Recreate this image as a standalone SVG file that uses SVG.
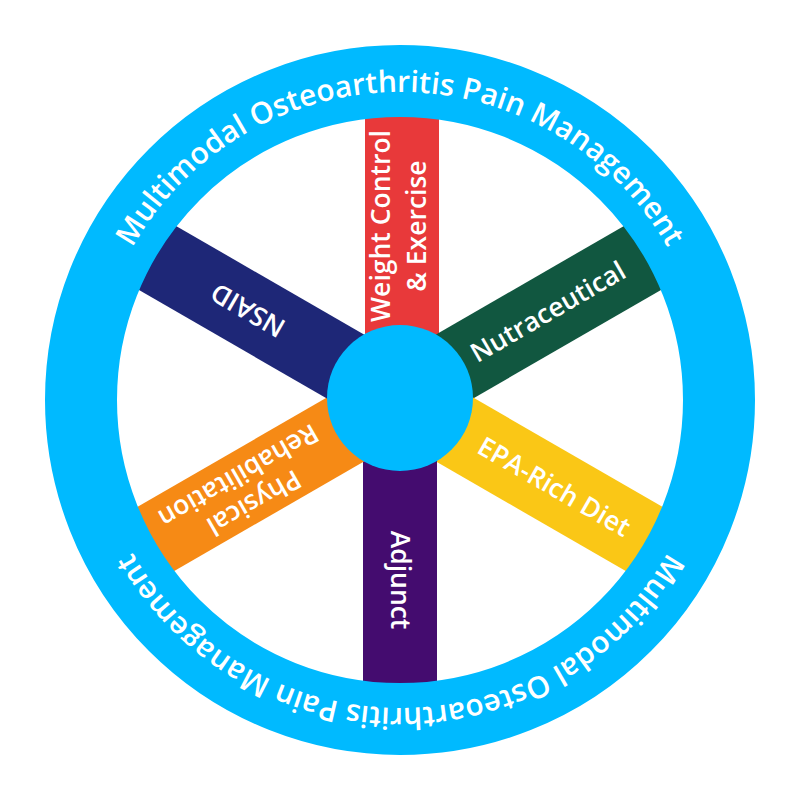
<svg xmlns="http://www.w3.org/2000/svg" width="800" height="800" viewBox="0 0 800 800">
<defs>
<style>
.lbl{font-family:"Open Sans","Noto Sans","Liberation Sans",sans-serif;font-weight:600;font-size:26.5px;fill:#ffffff;text-anchor:middle}
.ring-text{font-family:"Open Sans","Noto Sans","Liberation Sans",sans-serif;font-weight:600;font-size:30px;fill:#ffffff;text-anchor:middle}
</style>
<path id="ringPath" d="M 92 400 A 308 308 0 1 1 708 400 A 308 308 0 1 1 92 400"/>
</defs>
<rect width="800" height="800" fill="#ffffff"/>
<g id="spokes">
<g id="weight-control"><rect x="0" y="-37" width="290" height="74" fill="#E8393A" transform="translate(402,398) rotate(-90)"/><text class="lbl" transform="translate(402,226) rotate(-90)"><tspan x="0" y="-12">Weight Control</tspan><tspan x="0" y="24">&amp; Exercise</tspan></text></g>
<g id="nutraceutical"><rect x="0" y="-37" width="300" height="74" fill="#115740" transform="translate(400,398) rotate(-30)"/><text class="lbl" transform="translate(548,312) rotate(-30)" y="9">Nutraceutical</text></g>
<g id="epa-rich-diet"><rect x="0" y="-37" width="300" height="74" fill="#FAC716" transform="translate(400,398) rotate(30)"/><text class="lbl" transform="translate(554,487) rotate(30)" y="9">EPA-Rich Diet</text></g>
<g id="adjunct"><rect x="0" y="-37" width="300" height="74" fill="#440C6F" transform="translate(400,398) rotate(90)"/><text class="lbl" transform="translate(400,580) rotate(90)" y="9">Adjunct</text></g>
<g id="physical-rehabilitation"><rect x="0" y="-37" width="300" height="74" fill="#F68A15" transform="translate(400,398) rotate(150)"/><text class="lbl" transform="translate(245,487) rotate(150)"><tspan x="0" y="-9">Physical</tspan><tspan x="0" y="22">Rehabilitation</tspan></text></g>
<g id="nsaid"><rect x="0" y="-37" width="300" height="74" fill="#1E2777" transform="translate(400,398) rotate(210)"/><text class="lbl" transform="translate(248,310) rotate(210)" y="9">NSAID</text></g>
</g>
<g id="ring">
<circle cx="400" cy="400" r="319" fill="none" stroke="#00BAFF" stroke-width="72"/>
<text class="ring-text"><textPath href="#ringPath" startOffset="25%">Multimodal Osteoarthritis Pain Management</textPath></text>
<text class="ring-text"><textPath href="#ringPath" startOffset="75%">Multimodal Osteoarthritis Pain Management</textPath></text>
</g>
<g id="hub"><circle cx="400" cy="398" r="73" fill="#00BAFF"/></g>
</svg>
